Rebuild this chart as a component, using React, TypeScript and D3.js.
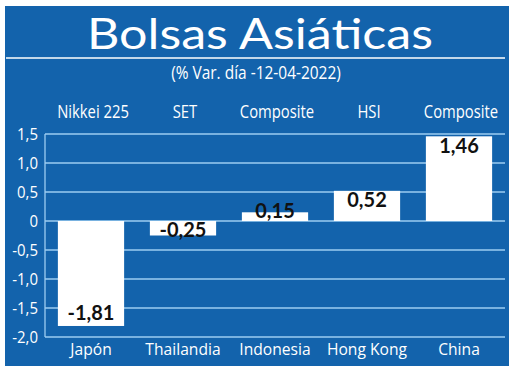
import React from "react";
import * as d3 from "d3";

const countries = ["Japón", "Thailandia", "Indonesia", "Hong Kong", "China"];
const indices = ["Nikkei 225", "SET", "Composite", "HSI", "Composite"];
const values = [-1.81, -0.25, 0.15, 0.52, 1.46];
const yTicks = [1.5, 1.0, 0.5, 0, -0.5, -1.0, -1.5, -2.0];
const yTickLabels = ["1,5", "1,0", "0,5", "0", "-0,5", "-1,0", "-1,5", "-2,0"];
const valueLabels = ["-1,81", "-0,25", "0,15", "0,52", "1,46"];
const title = "Bolsas Asiáticas";
const subtitle = "(% Var. día -12-04-2022)";

const BLUE = "#1363ac";
const GRID = "#9dcdf2";

export default function App() {
  const W = 520, H = 372;
  const left = 45, right = 505, top = 134, bottom = 337;
  const x = d3.scaleBand<number>().domain(d3.range(values.length)).range([left, right]).paddingInner(0.28).paddingOuter(0.14);
  const y = d3.scaleLinear().domain([-2, 1.5]).range([bottom, top]);
  const y0 = y(0);
  const cond = "'Open Sans', sans-serif";

  return (
    <div style={{ position: "absolute", left: 0, top: 0 }}>
      <svg width={W} height={H} style={{ display: "block" }}>
        <rect x={0} y={0} width={W} height={H} fill="#fff" />
        <rect x={5} y={6} width={504} height={360} fill={BLUE} />
        <text x={260} y={49} textAnchor="middle" fill="#fff" fontFamily="Lato, sans-serif" fontSize={42} textLength={346} lengthAdjust="spacingAndGlyphs">{title}</text>
        <line x1={6} x2={505} y1={58} y2={58} stroke="#fff" strokeWidth={1.5} />
        <text transform={`translate(256,79) scale(0.86,1)`} textAnchor="middle" fill="#fff" fontFamily={cond} fontSize={18}>{subtitle}</text>
        {indices.map((d, i) => (
          <text key={"h" + i} transform={`translate(${x(i)! + x.bandwidth() / 2 + 2},118) scale(0.78,1)`} textAnchor="middle" fill="#fff" fontFamily={cond} fontSize={19}>{d}</text>
        ))}
        {yTicks.map((t, i) => (
          <g key={"t" + i}>
            <line x1={left} x2={right} y1={y(t)} y2={y(t)} stroke={GRID} strokeWidth={1.3} />
            <text transform={`translate(38,${y(t) + 6}) scale(0.88,1)`} textAnchor="end" fill="#fff" fontFamily={cond} fontSize={17}>{yTickLabels[i]}</text>
          </g>
        ))}
        <line x1={left} x2={left} y1={top} y2={bottom} stroke={GRID} strokeWidth={1.3} />
        {values.map((v, i) => {
          const yv = y(v);
          const bx = x(i)!;
          const cx = bx + x.bandwidth() / 2;
          const ly = v >= 0 ? Math.min(yv + 16.5, y0 - 3) : Math.max(yv - 6, y0 + 16);
          return (
            <g key={"b" + i}>
              <rect x={bx} y={Math.min(yv, y0)} width={x.bandwidth()} height={Math.abs(yv - y0)} fill="#fff" />
              <text x={cx} y={ly} textAnchor="middle" fill="#111" fontFamily="Lato, sans-serif" fontWeight={700} fontSize={20}>{valueLabels[i]}</text>
            </g>
          );
        })}
        {countries.map((c, i) => (
          <text key={"c" + i} transform={`translate(${x(i)! + x.bandwidth() / 2},355) scale(0.92,1)`} textAnchor="middle" fill="#fff" fontFamily={cond} fontSize={17}>{c}</text>
        ))}
      </svg>
    </div>
  );
}
